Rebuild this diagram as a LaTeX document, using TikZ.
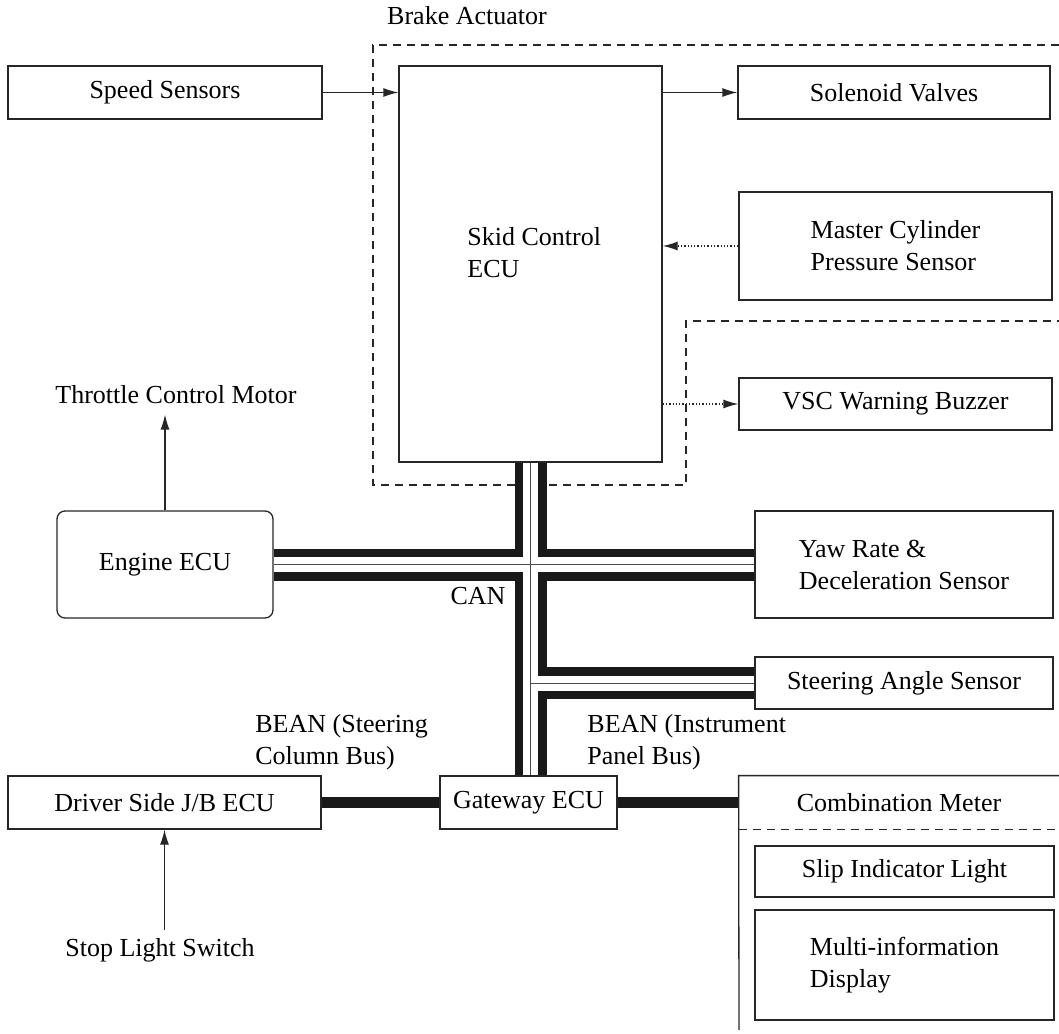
\documentclass[tikz,border=0pt]{standalone}
\usepackage{fontspec}
\setmainfont{Liberation Serif}
\usepackage{tikz}
\usetikzlibrary{calc, arrows.meta, positioning}

\begin{document}
\begin{tikzpicture}[x=0.5pt, y=-0.5pt,
			every node/.style={font=\fontsize{13}{16}\selectfont, inner sep=0pt, align=left},
			block/.style={draw=black!85, line width=0.65pt, rectangle},
			ecubox/.style={block, rounded corners=4pt},
			signal/.style={draw=black!85, line width=0.65pt, -{Latex[length=7.5pt, width=4.5pt]}},
			dotsignal/.style={signal, densely dotted},
			actuator/.style={draw=black!85, line width=0.65pt, dash pattern=on 4pt off 3pt},
			link/.style={draw=black!90, line width=5.5pt}
			]
			\useasboundingbox (0,0) rectangle (1059,1033);
			
			\node [block, minimum width=157pt, minimum height=26.5pt](speed) at (165,92.5) {Speed Sensors};
			\node [block, minimum width=131.5pt, minimum height=198pt](skid) at (530.5,264) {};
			\node [anchor=west](skidlbl) at (467,253) {Skid Control\\ECU};
			\node (brake) at (467,16) {Brake Actuator};
			
			\node [block, minimum width=156pt, minimum height=26.5pt](solenoid) at (894,92.5) {Solenoid Valves};
			\node [block, minimum width=156.5pt, minimum height=54pt](master) at (895.5,246) {Master Cylinder\\Pressure Sensor};
			\node [block, minimum width=156.5pt, minimum height=26pt](vsc) at (895.5,404) {VSC Warning Buzzer};
			
			\node [ecubox, minimum width=108pt, minimum height=53.5pt](engine) at (165,564.5) {Engine ECU};
			\node (throttle) at (176,395) {Throttle Control Motor};
			
			\node [block, minimum width=149pt, minimum height=53.5pt](yaw) at (904,564.5) {Yaw Rate \&\\Deceleration Sensor};
			\node [block, minimum width=149pt, minimum height=26pt](steer) at (904,683) {Steering Angle Sensor};
			\node (can) at (478,596) {CAN};
			
			\node [anchor=west](beansc) at (255,742) {BEAN (Steering\\Column Bus)};
			\node [anchor=west](beanip) at (587,742) {BEAN (Instrument\\Panel Bus)};
			
			\node [block, minimum width=156.5pt, minimum height=26.5pt](driver) at (164.5,802.5) {Driver Side J/B ECU};
			\node [block, minimum width=88.5pt, minimum height=26.5pt](gateway) at (528.5,802.5) {Gateway ECU};
			\node [minimum width=160pt, minimum height=26.5pt](comb) at (899,802.5) {Combination Meter};
			\coordinate (combend) at (739,1030);
			\node [block, minimum width=149.5pt, minimum height=25.5pt](slip) at (904.5,871.5) {Slip Indicator Light};
			\node [block, minimum width=149.5pt, minimum height=55pt](multi) at (904.5,965) {Multi-information\\Display};
			\node (stop) at (160,950) {Stop Light Switch};
			
			\draw[actuator] (1059,45) -- (373,45) -- (373,485) -- (686,485) -- (686,321) -- (1059,321);
			
			\draw[signal] (speed.east) -- (speed.east -| skid.west);
			\draw[signal] (skid.east |- solenoid.west) -- (solenoid.west);
			\draw[dotsignal] (master.west) -- (master.west -| skid.east);
			\draw[dotsignal] (vsc.west -| skid.east) -- (vsc.west);
			\draw[signal] (engine.north) -- ($(engine.north |- throttle.south)+(0,10)$);
			\draw[signal] ($(stop.north -| driver.south)+(0,-8)$) -- (driver.south);
			
			\foreach \w/\c in {16pt/black!90, 7.5pt/white, 0.5pt/black!70}
			\draw[line width=\w, \c] (engine.east) -- (yaw.west)
				(skid.south) -- (skid.south |- gateway.north)
				(skid.south |- steer.west) -- (steer.west);
			
			\draw[link] (driver.east) -- (gateway.west);
			\draw[link] (gateway.east) -- (comb.west);
			
			\draw[block] (combend) -- (comb.north west) -- (comb.north east);
			\draw[actuator] (comb.south west) -- (comb.south east);
			
		\end{tikzpicture}
\end{document}
